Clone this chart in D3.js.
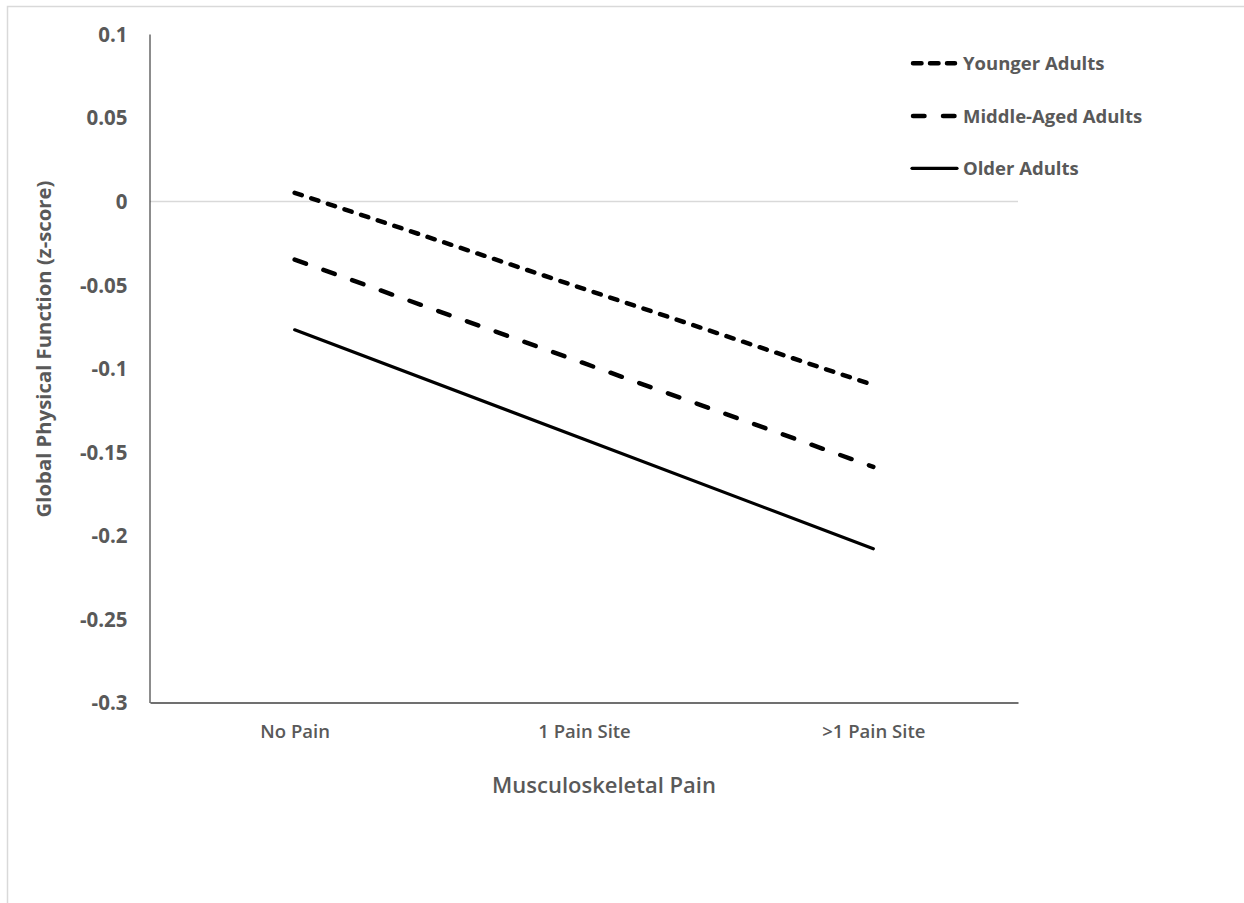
<!DOCTYPE html>
<html>
<head>
<meta charset="utf-8">
<script src="https://cdn.jsdelivr.net/npm/d3@7"></script>
<style>
  html, body { margin: 0; padding: 0; background: #ffffff; }
  svg { display: block; }
  text { font-family: "Open Sans", "DejaVu Sans", sans-serif; fill: #595959; }
</style>
</head>
<body>
<svg id="chart" width="1244" height="903"></svg>
<script>
// ---- data ----
const categories = ["No Pain", "1 Pain Site", ">1 Pain Site"];
const seriesNames = ["Younger Adults", "Middle-Aged Adults", "Older Adults"];
const younger = [0.005, -0.0525, -0.11];
const middleAged = [-0.035, -0.097, -0.159];
const older = [-0.077, -0.1425, -0.208];
const yTickValues = [0.1, 0.05, 0, -0.05, -0.1, -0.15, -0.2, -0.25, -0.3];
const yTickLabels = ["0.1", "0.05", "0", "-0.05", "-0.1", "-0.15", "-0.2", "-0.25", "-0.3"];
const yTitle = "Global Physical Function (z-score)";
const xTitle = "Musculoskeletal Pain";

(function () {
// ---- styles ----
const seriesStyles = [
  { width: 4.5, dash: "7.5,10" },
  { width: 4.5, dash: "12,18.5" },
  { width: 3.2, dash: null }
];
const seriesValues = [younger, middleAged, older];

const svg = d3.select("#chart");

// outer frame
svg.append("rect")
  .attr("x", 7.5).attr("y", 6.5)
  .attr("width", 1400).attr("height", 1000)
  .attr("fill", "none").attr("stroke", "#d9d9d9").attr("stroke-width", 1.5);

const plotL = 150, plotR = 1018, plotT = 34, plotB = 702.5;

const x = d3.scalePoint().domain(categories).range([plotL, plotR]).padding(0.5);
const y = d3.scaleLinear().domain([-0.3, 0.1]).range([plotB, plotT]);

// zero gridline
svg.append("line")
  .attr("x1", plotL).attr("x2", plotR)
  .attr("y1", Math.round(y(0)) + 0.5).attr("y2", Math.round(y(0)) + 0.5)
  .attr("stroke", "#d9d9d9").attr("stroke-width", 1.3);

// y axis
const yAxis = d3.axisLeft(y)
  .tickValues(yTickValues)
  .tickFormat((d, i) => yTickLabels[i])
  .tickSizeInner(0).tickSizeOuter(0).tickPadding(22);
const gy = svg.append("g").attr("transform", `translate(${plotL - 0.5},0)`).call(yAxis);
gy.select(".domain").attr("stroke", "#1a1a1a").attr("stroke-width", 1);
gy.selectAll("text")
  .attr("dy", "0.36em")
  .style("font-size", "20.5px").style("font-weight", "700")
  .style("font-family", "'Open Sans', sans-serif").attr("fill", "#595959");

// x axis
const xAxis = d3.axisBottom(x).tickSizeInner(0).tickSizeOuter(0).tickPadding(0);
const gx = svg.append("g").attr("transform", `translate(0,${plotB})`).call(xAxis);
gx.select(".domain").attr("stroke", "#404040").attr("stroke-width", 1.6);
gx.selectAll("text")
  .attr("y", 35).attr("dy", 0)
  .style("font-size", "18.5px").style("font-weight", "600")
  .style("font-family", "'Open Sans', sans-serif").attr("fill", "#595959");

// axis titles
svg.append("text")
  .attr("transform", "translate(51,349) rotate(-90)")
  .attr("text-anchor", "middle")
  .style("font-size", "20.3px").style("font-weight", "700")
  .text(yTitle);

svg.append("text")
  .attr("x", 604).attr("y", 793)
  .attr("text-anchor", "middle")
  .style("font-size", "22px").style("font-weight", "600")
  .text(xTitle);

// series lines
const line = d3.line()
  .x((d, i) => x(categories[i]))
  .y(d => y(d));

seriesValues.forEach((vals, k) => {
  const st = seriesStyles[k];
  svg.append("path")
    .datum(vals)
    .attr("d", line)
    .attr("fill", "none")
    .attr("stroke", "#000000")
    .attr("stroke-width", st.width)
    .attr("stroke-linecap", "round")
    .attr("stroke-dasharray", st.dash);
});

// legend
const legendY = [63.3, 116, 168.3];
const legendX1 = 911, legendX2 = 957, legendTextX = 963;
seriesNames.forEach((name, k) => {
  const st = seriesStyles[k];
  svg.append("line")
    .attr("x1", legendX1 + (st.dash ? 2 : 1)).attr("x2", legendX2 - (st.dash ? 2 : 0))
    .attr("y1", legendY[k]).attr("y2", legendY[k])
    .attr("stroke", "#000").attr("stroke-width", st.width)
    .attr("stroke-linecap", "round")
    .attr("stroke-dasharray", k === 0 ? "8.5,8.5" : (k === 1 ? "11.5,18.5" : null));
  svg.append("text")
    .attr("x", legendTextX).attr("y", legendY[k])
    .attr("dy", "0.36em")
    .style("font-size", "18.5px").style("font-weight", "700")
    .text(name);
});
})();
</script>
</body>
</html>
